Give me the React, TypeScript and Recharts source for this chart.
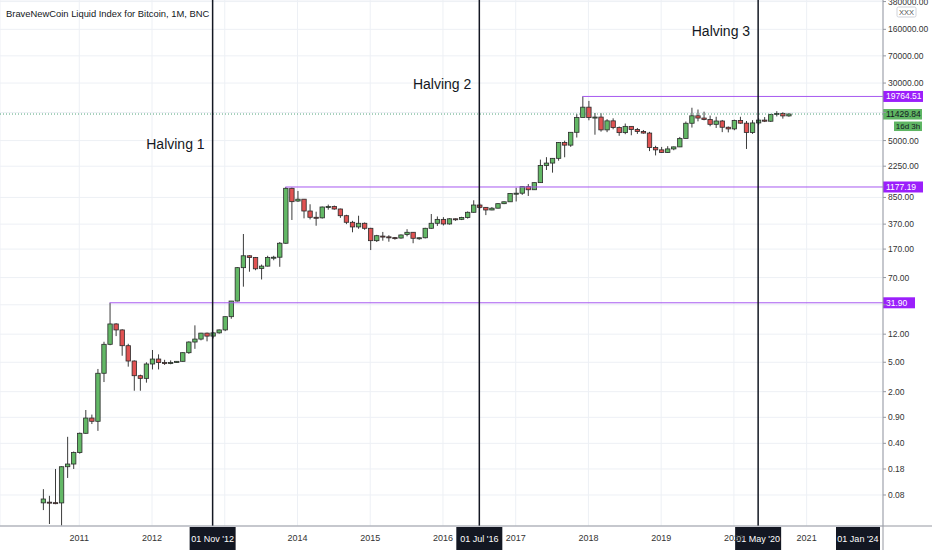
import React from 'react';
import { ComposedChart, Bar, XAxis, YAxis, CartesianGrid, ReferenceLine } from 'recharts';

// Monthly candles, index 0 = Jul 2010 ... 123 = Oct 2020
const opens = [
  0.0626, 0.064, 0.063, 0.0625, 0.193, 0.21,
  0.30, 0.547, 0.88, 0.795, 3.55, 8.75, 16.5, 13.7, 8.38, 5.2, 3.29, 3.03,
  4.74, 5.53, 4.95, 4.90, 4.95, 5.15, 6.74, 9.4, 10.3, 12.4, 11.3, 12.5,
  13.7, 20.7, 33.7, 95.3, 138, 131, 93, 100, 131, 132, 204, 1130,
  760, 805, 557, 458, 450, 631, 640, 593, 481, 392, 339, 380,
  325, 221, 255, 249, 243, 240, 268, 287, 236, 242, 325, 380,
  429, 372, 437, 430, 455, 535, 671, 624, 575, 608, 700, 742,
  963, 970, 1190, 1080, 1348, 2300, 2480, 2875, 4700, 4338, 6468, 10233,
  14156, 10221, 10397, 6973, 9240, 7494, 6404, 7780, 7037, 6625, 6317, 4017,
  3742, 3457, 3854, 4105, 5350, 8574, 10817, 10085, 9630, 8293, 9199, 7569,
  7193, 9350, 8599, 6438, 8658, 9461, 9137, 11323, 11650, 10780,
];
const highs = [
  0.096, 0.078, 0.18, 0.195, 0.49, 0.31,
  0.56, 1.13, 0.98, 4.06, 9.48, 31.9, 16.9, 14.0, 8.9, 5.3, 3.4, 5.0,
  7.33, 6.4, 5.4, 5.3, 5.2, 6.8, 9.6, 15.8, 12.5, 12.6, 12.7, 13.9,
  20.8, 33.8, 97, 272, 140, 133, 105, 138, 138, 212, 1177.19, 1160,
  1040, 810, 687, 545, 640, 680, 660, 600, 495, 410, 481, 390,
  330, 265, 290, 262, 248, 268, 316, 288, 245, 330, 507, 470,
  460, 445, 440, 465, 550, 778, 705, 630, 630, 710, 750, 975,
  1150, 1200, 1290, 1350, 2760, 2980, 2900, 4750, 4980, 6470, 11500, 19764.51,
  17200, 11800, 11700, 9750, 10000, 7750, 8500, 7800, 7400, 6950, 6560, 4250,
  4100, 4200, 4150, 5600, 9050, 13900, 13150, 12300, 10900, 10500, 9500, 7750,
  9600, 10500, 9200, 9450, 10080, 10400, 11450, 12480, 12070, 11700,
];
const lows = [
  0.050, 0.0324, 0.060, 0.031, 0.136, 0.18,
  0.29, 0.54, 0.73, 0.59, 2.70, 8.5, 11.3, 6.13, 4.36, 2.06, 2.06, 2.65,
  4.0, 4.0, 4.6, 4.7, 4.9, 5.1, 6.5, 7.6, 9.9, 9.6, 10.5, 12.2,
  13.2, 19.4, 33.3, 52.7, 84, 88, 66, 99, 120, 98, 200, 421,
  740, 443, 429, 352, 440, 580, 580, 450, 370, 287, 320, 310,
  165, 212, 221, 214, 228, 235, 253, 204, 227, 237, 320, 350,
  355, 365, 410, 420, 440, 530, 600, 490, 570, 605, 690, 740,
  750, 920, 890, 1080, 1340, 2000, 1840, 2670, 2970, 4110, 5500, 10900,
  9400, 6000, 6600, 6500, 7100, 5800, 6100, 5900, 6150, 6200, 3600, 3150,
  3400, 3400, 3700, 4080, 5330, 7500, 9100, 9400, 7800, 7400, 6500, 6450,
  6900, 8450, 3850, 6150, 8100, 8900, 8950, 10600, 9900, 10500,
];
const closes = [
  0.0706, 0.063, 0.0625, 0.193, 0.21, 0.30,
  0.547, 0.88, 0.795, 3.55, 8.75, 16.5, 13.7, 8.38, 5.2, 3.29, 3.03, 4.74,
  5.53, 4.95, 4.90, 4.95, 5.15, 6.74, 9.4, 10.3, 12.4, 11.3, 12.5, 13.7,
  20.7, 33.7, 95.3, 138, 131, 92, 100, 131, 132, 204, 1130, 745,
  805, 557, 458, 450, 631, 640, 593, 481, 392, 339, 380, 325,
  221, 258, 249, 243, 240, 264, 287, 238, 242, 325, 380, 429,
  372, 437, 430, 455, 535, 671, 624, 575, 608, 700, 742, 963,
  970, 1190, 1080, 1348, 2300, 2480, 2875, 4700, 4338, 6468, 10233, 14156,
  10221, 10397, 6973, 9240, 7494, 6404, 7780, 7037, 6625, 6317, 4017, 3742,
  3457, 3854, 4105, 5350, 8574, 10817, 10085, 9630, 8293, 9199, 7569, 7193,
  9350, 8599, 6438, 8658, 9461, 9137, 11323, 11650, 10780, 11429.84,
];

const yearTicks = [6, 18, 30, 42, 54, 66, 78, 90, 102, 114, 126];
// '' = label hidden behind the halving date box in the reference
const yearLabels = ['2011', '2012', '', '2014', '2015', '2016', '2017', '2018', '2019', '2020', '2021'];
const priceTicks = [0.08, 0.18, 0.4, 0.9, 2, 5, 12, 30, 70, 170, 370, 850, 2250, 5000, 12000, 30000, 70000, 160000, 380000];
const hiddenPriceTicks = [12000, 30];

const halvingMonths = [28, 72, 118];
const halvingNames = ['Halving 1', 'Halving 2', 'Halving 3'];
const halvingDates = ["01 Nov '12", "01 Jul '16", "01 May '20"];

const levelValues = [31.9, 1177.19, 19764.51];
const levelStartMonths = [11, 40, 89];
const levelTexts = ['31.90', '1177.19', '19764.51'];

const currentPrice = 11429.84;
const currentText = '11429.84';
const timeLeft = '16d 3h';

// layout constants
const X_MIN = -7.08;
const X_MAX = 138.6;
const Y_MIN = 0.03045;
const Y_MAX = 399000;
const halvingLabelBaselines = [149, 89, 36];
const levelTagWidths = [32, 40, 40];

const GREEN = '#63b866';
const RED = '#e05252';
const PURPLE = '#9b1ffb';
const LINE_PURPLE = '#a659f0';
const TAG_GREEN = '#5fb563';
const AXIS = '#9598a1';
const DARK = '#131722';

const data = opens.map((o, i) => ({
  m: i,
  open: o,
  high: highs[i],
  low: lows[i],
  close: closes[i],
  range: [lows[i], highs[i]],
}));

const Candle = (props: any) => {
  const { x, y, width, height, payload } = props;
  if (!payload || x == null || y == null) return null;
  const { open, close, high, low } = payload;
  const top = Math.min(y, y + height);
  const bottom = Math.max(y, y + height);
  const lh = Math.log10(high);
  const ll = Math.log10(low);
  const span = lh - ll || 1;
  const py = (v: number) => top + ((bottom - top) * (lh - Math.log10(v))) / span;
  const cx = x + width / 2;
  const up = close >= open;
  const yo = py(open);
  const yc = py(close);
  const bt = Math.min(yo, yc);
  const bh = Math.max(Math.abs(yo - yc), 1);
  return (
    <g>
      <line x1={cx} x2={cx} y1={top} y2={bottom} stroke="#3c3c3c" strokeWidth={1} />
      <rect x={cx - 2.2} y={bt} width={4.4} height={bh} fill={up ? GREEN : RED} stroke="#2a2a2a" strokeWidth={0.8} />
    </g>
  );
};

const PriceTick = (props: any) => {
  const { x, y, payload } = props;
  const v = payload.value;
  if (hiddenPriceTicks.includes(v)) return <g />;
  return (
    <text x={x} y={y} dy="0.35em" textAnchor="start" fontSize={8.5} fill="#333">
      {Number(v).toFixed(2)}
    </text>
  );
};

const YearTick = (props: any) => {
  const { x, y, payload } = props;
  const idx = yearTicks.indexOf(payload.value);
  const label = yearLabels[idx];
  if (!label) return <g />;
  return (
    <text x={x} y={y} dy="0.71em" textAnchor="middle" fontSize={9} fill="#333">
      {label}
    </text>
  );
};

const halvingLabel = (i: number) => (p: any) => {
  const vb = p.viewBox || {};
  const x = vb.x;
  const bottom = vb.y + vb.height;
  return (
    <g>
      <text x={x - 8} y={halvingLabelBaselines[i]} textAnchor="end" fontSize={14} fill={DARK}>
        {halvingNames[i]}
      </text>
      <rect x={x - 23} y={bottom + 1} width={46} height={24} fill={DARK} />
      <text x={x} y={bottom + 15.5} textAnchor="middle" fontSize={9} fill="#fff">
        {halvingDates[i]}
      </text>
    </g>
  );
};

const levelLabel = (i: number) => (p: any) => {
  const vb = p.viewBox || {};
  const right = vb.x + vb.width;
  const cy = vb.y;
  return (
    <g>
      <rect x={right} y={cy - 5.5} width={levelTagWidths[i]} height={11} fill={PURPLE} />
      <text x={right + 3} y={cy} dy="0.35em" fontSize={8.5} fill="#fff">
        {levelTexts[i]}
      </text>
    </g>
  );
};

const currentLabel = (p: any) => {
  const vb = p.viewBox || {};
  const right = vb.x + vb.width;
  const cy = vb.y;
  return (
    <g>
      <rect x={right} y={cy - 5} width={39} height={10.5} fill={TAG_GREEN} />
      <text x={right + 3} y={cy} dy="0.35em" fontSize={8.5} fill={DARK}>
        {currentText}
      </text>
      <rect x={right + 11} y={cy + 7.5} width={28} height={9.5} fill={TAG_GREEN} />
      <text x={right + 25} y={cy + 12.2} dy="0.35em" textAnchor="middle" fontSize={8} fill={DARK}>
        {timeLeft}
      </text>
    </g>
  );
};

export default function App() {
  return (
    <div style={{ position: 'absolute', left: 0, top: 0, fontFamily: "'Liberation Sans', Arial, sans-serif" }}>
      <ComposedChart width={932} height={550} data={data} margin={{ top: 0, right: 0, bottom: 0, left: 0 }}>
        <CartesianGrid stroke="#edf0f5" strokeWidth={1} />
        <XAxis
          type="number"
          dataKey="m"
          domain={[X_MIN, X_MAX]}
          allowDataOverflow
          ticks={yearTicks}
          interval={0}
          tickLine={false}
          tickSize={6}
          tickMargin={3}
          axisLine={{ stroke: AXIS }}
          height={24}
          tick={YearTick}
        />
        <YAxis
          orientation="right"
          type="number"
          scale="log"
          domain={[Y_MIN, Y_MAX]}
          allowDataOverflow
          ticks={priceTicks}
          interval={0}
          width={49}
          tickSize={3}
          tickMargin={2}
          axisLine={{ stroke: AXIS }}
          tickLine={{ stroke: AXIS }}
          tick={PriceTick}
        />
        <ReferenceLine
          y={currentPrice}
          stroke="#4fa37a"
          strokeDasharray="1 2"
          strokeWidth={1}
          label={currentLabel}
        />
        {levelValues.map((v, i) => (
          <ReferenceLine
            key={'lv' + i}
            segment={[{ x: levelStartMonths[i], y: v }, { x: X_MAX, y: v }]}
            stroke={LINE_PURPLE}
            strokeWidth={1}
            label={levelLabel(i)}
          />
        ))}
        <Bar dataKey="range" barSize={5} shape={Candle} isAnimationActive={false} />
        {halvingMonths.map((m, i) => (
          <ReferenceLine key={'hv' + i} x={m} stroke={DARK} strokeWidth={1.5} label={halvingLabel(i)} />
        ))}
        <text x={6} y={17} fontSize={9.4} fill={DARK}>
          BraveNewCoin Liquid Index for Bitcoin, 1M, BNC
        </text>
        <rect x={897} y={7} width={19} height={10} rx={1.5} fill="#fff" stroke="#d0d3da" />
        <text x={906.5} y={12.2} dy="0.35em" textAnchor="middle" fontSize={7.5} fill="#555">
          XXX
        </text>
        <line x1={883} y1={526} x2={932} y2={526} stroke={AXIS} />
        <line x1={883} y1={526} x2={883} y2={550} stroke={AXIS} />
        <rect x={836} y={527} width={44} height={23} fill={DARK} />
        <text x={858} y={542} textAnchor="middle" fontSize={9} fill="#fff">
          01 Jan '24
        </text>
      </ComposedChart>
    </div>
  );
}
